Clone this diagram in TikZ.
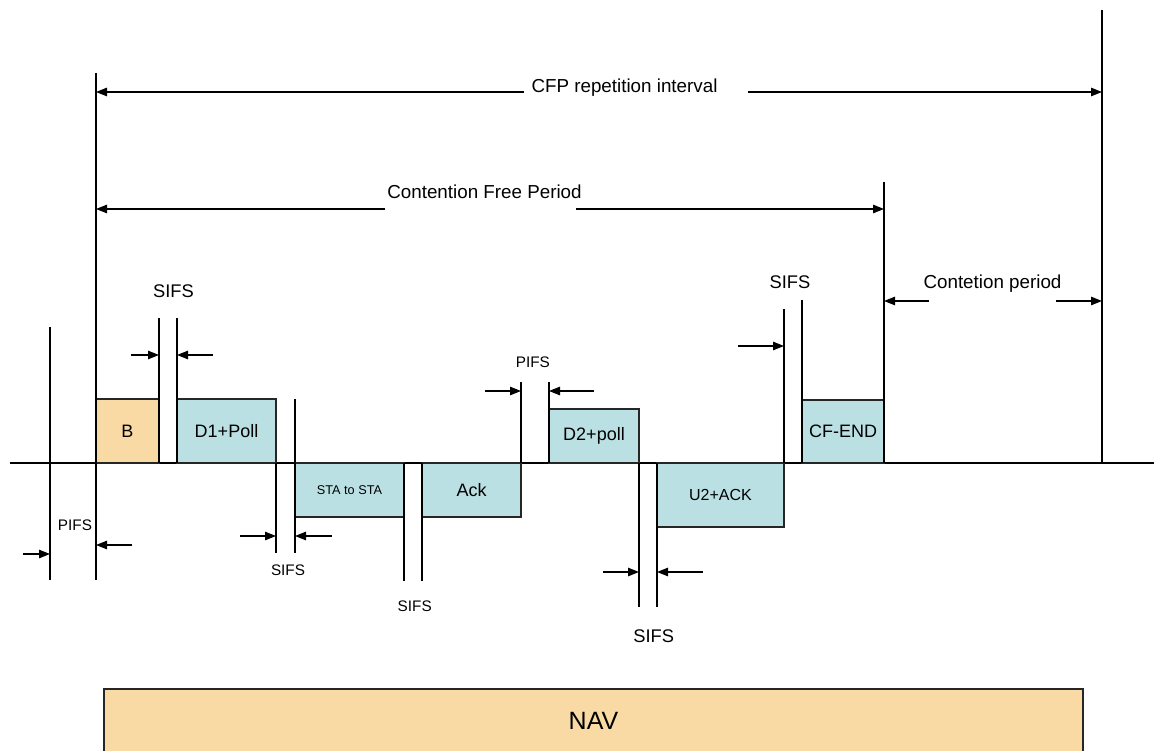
\documentclass[tikz,border=0pt]{standalone}
\usepackage{fontspec}
\setmainfont{Liberation Sans}
\usetikzlibrary{arrows.meta}
\definecolor{beaconfill}{RGB}{249,218,165}
\definecolor{framefill}{RGB}{187,224,227}
\begin{document}
\begin{tikzpicture}[x=1pt,y=-1pt,
  tline/.style={line width=1.1pt, draw=black},
  dim/.style={line width=1.1pt, -{Triangle[length=11pt,width=8.5pt]}},
  pkt/.style={draw=black!85, line width=1.1pt, fill=framefill, inner sep=0pt,
              outer sep=0pt, anchor=north west, font=\fontsize{18}{20}\selectfont},
  lbl/.style={inner sep=0pt, anchor=base, font=\fontsize{18.3}{20}\selectfont},
  smalllbl/.style={lbl, font=\fontsize{15.3}{17}\selectfont},
  toplbl/.style={lbl, font=\fontsize{18.8}{21}\selectfont},
]
\useasboundingbox (0,0) rectangle (1154,751);
\clip (0,0) rectangle (1154,751);

% time axis
\coordinate (axL) at (10,463);
\coordinate (axR) at (1154,463);
\draw[tline] (axL) -- (axR);

% frames on the medium
\node[pkt, fill=beaconfill, minimum width=63pt, minimum height=64pt] (B) at (96,399) {B};
\node[pkt, minimum width=99pt, minimum height=64pt] (D1) at (177,399) {D1+Poll};
\node[pkt, minimum width=109pt, minimum height=54pt, font=\fontsize{12.7}{14}\selectfont] (STA) at (295,463) {STA to STA};
\node[pkt, minimum width=99pt, minimum height=54pt] (ACK) at (422,463) {Ack};
\node[pkt, minimum width=90pt, minimum height=54pt] (D2) at (549,409) {D2+poll};
\node[pkt, minimum width=127pt, minimum height=64pt, font=\fontsize{16}{18}\selectfont] (U2) at (657,463) {U2+ACK};
\node[pkt, minimum width=82pt, minimum height=63pt] (CFE) at (802,400) {CF-END};
\node[pkt, fill=beaconfill, minimum width=979pt, minimum height=64pt, font=\fontsize{25}{28}\selectfont] (NAV) at (104,689) {NAV};

% vertical markers
\coordinate (pifsAt) at (50,327);   \coordinate (pifsAb) at (50,580);
\coordinate (cfpSt)  at (96,73);    \coordinate (cfpSb)  at (96,580);
\coordinate (s1at)   at (159,318);
\coordinate (s1bt)   at (177,318);
\coordinate (s2ab)   at (276,553);
\coordinate (s2bt)   at (295,399);  \coordinate (s2bb)   at (295,553);
\coordinate (s3ab)   at (404,581);
\coordinate (s3bb)   at (422,581);
\coordinate (p2at)   at (521,382);
\coordinate (p2bt)   at (549,382);
\coordinate (s4ab)   at (639,607);
\coordinate (s4bb)   at (657,607);
\coordinate (s5at)   at (784,309);
\coordinate (s5bt)   at (802,300);
\coordinate (cfEt)   at (884,182);
\coordinate (repT)   at (1102,10);  \coordinate (repB)   at (1102,463);

\draw[tline] (pifsAt) -- (pifsAb);
\draw[tline] (cfpSt) -- (cfpSb);
\draw[tline] (s1at) -- (B.south east);
\draw[tline] (s1bt) -- (D1.south west);
\draw[tline] (D1.south east) -- (s2ab);
\draw[tline] (s2bt) -- (s2bb);
\draw[tline] (STA.north east) -- (s3ab);
\draw[tline] (ACK.north west) -- (s3bb);
\draw[tline] (p2at) -- (ACK.north east);
\draw[tline] (p2bt) -- (D2.south west);
\draw[tline] (D2.south east) -- (s4ab);
\draw[tline] (U2.north west) -- (s4bb);
\draw[tline] (s5at) -- (U2.north east);
\draw[tline] (s5bt) -- (CFE.south west);
\draw[tline] (cfEt) -- (CFE.south east);
\draw[tline] (repT) -- (repB);

% interval labels
\node[toplbl] (repL) at (624.5,93) {CFP repetition interval};
\node[toplbl] (cfpL) at (484.5,199) {Contention Free Period};
\node[lbl, font=\fontsize{18.8}{21}\selectfont] (cpL) at (992.5,289) {Contetion period};
\node[lbl] (sifs1) at (173.5,298) {SIFS};
\node[smalllbl] (pifs1) at (75,530) {PIFS};
\node[smalllbl] (sifs2) at (288,575) {SIFS};
\node[smalllbl] (sifs3) at (414.7,611) {SIFS};
\node[smalllbl] (pifs2) at (532.8,367) {PIFS};
\node[lbl] (sifs4) at (653.7,642) {SIFS};
\node[lbl] (sifs5) at (790,289) {SIFS};

% interval arrows
\coordinate (repA1) at (524,92);  \coordinate (repA1e) at (96,92);
\coordinate (repA2) at (748,92);  \coordinate (repA2e) at (1102,92);
\draw[dim] (repA1) -- (repA1e);
\draw[dim] (repA2) -- (repA2e);

\coordinate (cfpA1) at (385,209); \coordinate (cfpA1e) at (96,209);
\coordinate (cfpA2) at (576,209); \coordinate (cfpA2e) at (884,209);
\draw[dim] (cfpA1) -- (cfpA1e);
\draw[dim] (cfpA2) -- (cfpA2e);

\coordinate (cpA1) at (929,301);  \coordinate (cpA1e) at (884,301);
\coordinate (cpA2) at (1056,301); \coordinate (cpA2e) at (1102,301);
\draw[dim] (cpA1) -- (cpA1e);
\draw[dim] (cpA2) -- (cpA2e);

\coordinate (s1A1) at (131,355);  \coordinate (s1A1e) at (159,355);
\coordinate (s1A2) at (213,355);  \coordinate (s1A2e) at (177,355);
\draw[dim] (s1A1) -- (s1A1e);
\draw[dim] (s1A2) -- (s1A2e);

\coordinate (p1A1) at (23,554);   \coordinate (p1A1e) at (50,554);
\coordinate (p1A2) at (132,545);  \coordinate (p1A2e) at (96,545);
\draw[dim] (p1A1) -- (p1A1e);
\draw[dim] (p1A2) -- (p1A2e);

\coordinate (s2A1) at (240,536);  \coordinate (s2A1e) at (276,536);
\coordinate (s2A2) at (332,536);  \coordinate (s2A2e) at (295,536);
\draw[dim] (s2A1) -- (s2A1e);
\draw[dim] (s2A2) -- (s2A2e);

\coordinate (p2A1) at (485,391);  \coordinate (p2A1e) at (521,391);
\coordinate (p2A2) at (594,391);  \coordinate (p2A2e) at (549,391);
\draw[dim] (p2A1) -- (p2A1e);
\draw[dim] (p2A2) -- (p2A2e);

\coordinate (s4A1) at (603,572);  \coordinate (s4A1e) at (639,572);
\coordinate (s4A2) at (703,572);  \coordinate (s4A2e) at (657,572);
\draw[dim] (s4A1) -- (s4A1e);
\draw[dim] (s4A2) -- (s4A2e);

\coordinate (s5A1) at (738,346);  \coordinate (s5A1e) at (784,346);
\draw[dim] (s5A1) -- (s5A1e);
\end{tikzpicture}
\end{document}
